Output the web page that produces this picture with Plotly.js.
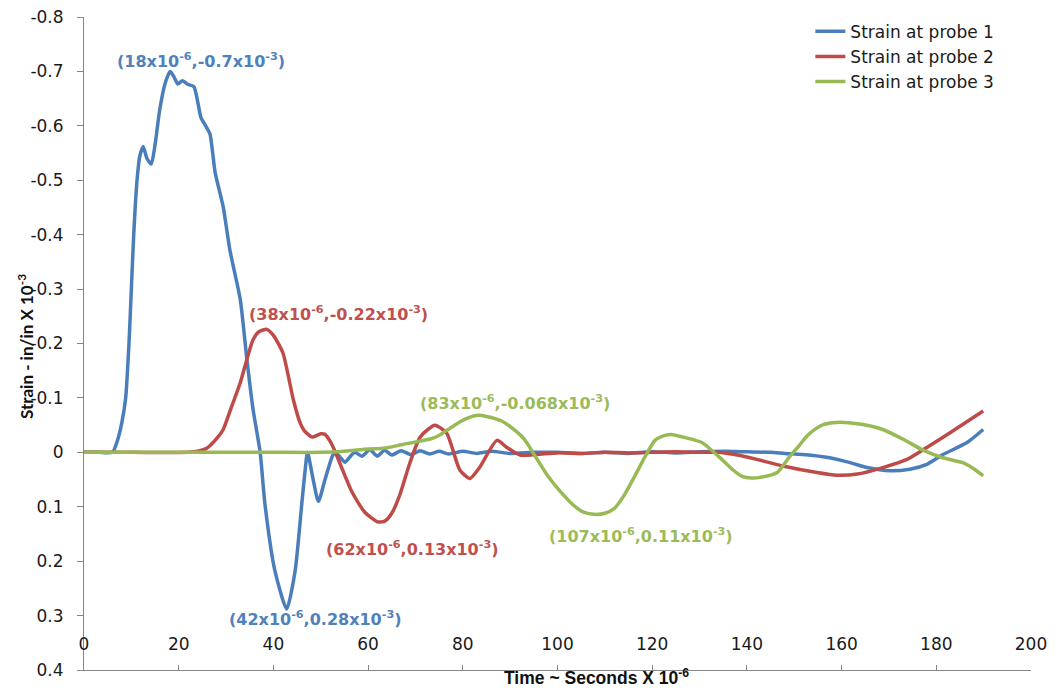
<!DOCTYPE html>
<html>
<head>
<meta charset="utf-8">
<script src="https://cdn.plot.ly/plotly-3.0.1.min.js"></script>
<style>html,body{margin:0;padding:0;background:#fff;}#chart{width:1062px;height:698px;}</style>
</head>
<body>
<div id="chart"></div>
<script>
// ---- data ----
const seriesNames = ["Strain at probe 1", "Strain at probe 2", "Strain at probe 3"];

const probe1X = [0, 3, 6.0, 7.0, 8.0, 8.8, 9.5, 10.0, 10.5, 11.2, 11.8, 12.5, 13.3, 14.2, 15.0, 16.0, 17.2, 18.2, 19.0, 19.8, 20.8, 22.0, 23.2, 24.0, 24.7, 25.7, 26.6, 27.7, 29.4, 30.8, 33.0, 34.4, 35.7, 37.2, 38.2, 40.3, 42.8, 44.6, 46.0, 46.7, 47.2, 48.4, 49.5, 50.9, 52.4, 53.0, 54.0, 55.1, 56.2, 57.2, 58.7, 60.4, 61.9, 63.5, 65, 67, 69, 71, 73, 75, 77, 80, 83, 86, 90, 95, 100, 105, 110, 115, 120, 125, 130, 135, 140, 145, 148, 151.8, 157.5, 161.8, 165.4, 170.2, 174.4, 178.0, 181.4, 186.5, 189.9];
const probe1Y = [0, 0, 0, -0.02, -0.055, -0.1, -0.2, -0.3, -0.4, -0.5, -0.545, -0.562, -0.54, -0.53, -0.565, -0.63, -0.68, -0.70, -0.69, -0.677, -0.683, -0.676, -0.672, -0.645, -0.615, -0.6, -0.585, -0.514, -0.451, -0.372, -0.281, -0.171, -0.079, 0, 0.094, 0.217, 0.288, 0.217, 0.094, 0.033, 0, 0.05, 0.09, 0.05, 0.008, 0, 0.008, 0.018, 0.008, 0, 0.007, -0.005, 0.007, -0.004, 0.005, -0.003, 0.004, -0.003, 0.003, -0.002, 0.003, -0.002, 0.002, -0.002, 0.002, 0, 0, 0.002, 0, 0.002, -0.001, 0.001, -0.001, -0.002, -0.001, 0, 0.002, 0.004, 0.01, 0.019, 0.028, 0.034, 0.031, 0.022, 0.004, -0.018, -0.042];

const probe2X = [0, 10, 22, 24, 26, 28, 29.4, 31.0, 33.0, 35.7, 37.0, 38.6, 40.0, 42.0, 44.2, 45.6, 46.5, 48.2, 50.0, 50.9, 52.0, 53.0, 54.5, 56.6, 59.3, 62.1, 63.6, 65.0, 66.7, 68.8, 71.0, 74.1, 76.6, 79.4, 81.5, 83.6, 87.2, 89.3, 92.1, 95.6, 100, 105, 110, 115, 120, 125, 130, 133.7, 138, 142.1, 147.6, 154.8, 159.0, 163.3, 168.7, 173.8, 178.0, 182.9, 189.9];
const probe2Y = [0, 0, 0, -0.002, -0.008, -0.025, -0.042, -0.08, -0.128, -0.207, -0.222, -0.226, -0.215, -0.183, -0.097, -0.055, -0.04, -0.028, -0.034, -0.033, -0.02, -0.002, 0.03, 0.073, 0.11, 0.128, 0.126, 0.112, 0.078, 0.02, -0.028, -0.05, -0.035, 0.033, 0.048, 0.027, -0.022, -0.009, 0.005, 0.004, 0.001, 0.002, 0, 0.001, 0, -0.001, 0, 0, 0.005, 0.013, 0.025, 0.037, 0.042, 0.04, 0.028, 0.013, -0.009, -0.036, -0.076];

const probe3X = [0, 20, 40, 50, 55, 60, 62.7, 65, 67, 70, 73.3, 75, 76.9, 79, 81, 83.2, 85, 88.1, 90.5, 93, 95.5, 98, 101, 103.6, 105.5, 107.8, 110, 112, 114, 116.3, 118.5, 120.6, 122.7, 124, 127, 130.5, 132, 134.7, 137, 139, 141, 142.8, 146.4, 149.1, 151.0, 152.7, 154.5, 156.1, 159.0, 162, 164.5, 168.7, 173.0, 177.2, 181.4, 185.6, 187.5, 189.9];
const probe3Y = [0, 0, 0, 0, -0.002, -0.006, -0.007, -0.01, -0.014, -0.019, -0.025, -0.031, -0.042, -0.054, -0.063, -0.068, -0.066, -0.058, -0.044, -0.024, 0.01, 0.044, 0.076, 0.099, 0.11, 0.114, 0.112, 0.103, 0.08, 0.044, 0.008, -0.022, -0.031, -0.033, -0.027, -0.018, -0.008, 0.013, 0.032, 0.044, 0.047, 0.046, 0.037, 0.007, -0.012, -0.03, -0.043, -0.051, -0.055, -0.054, -0.051, -0.042, -0.024, -0.004, 0.01, 0.019, 0.028, 0.043];

const yTickVals = [-0.8, -0.7, -0.6, -0.5, -0.4, -0.3, -0.2, -0.1, 0, 0.1, 0.2, 0.3, 0.4];
const yTickText = ["-0.8", "-0.7", "-0.6", "-0.5", "-0.4", "-0.3", "-0.2", "-0.1", "0", "0.1", "0.2", "0.3", "0.4"];
const xTickVals = [0, 20, 40, 60, 80, 100, 120, 140, 160, 180, 200];
const xTickText = ["0", "20", "40", "60", "80", "100", "120", "140", "160", "180", "200"];

const xTitle = "<b>Time ~ Seconds X 10<sup>-6</sup></b>";
const yTitle = "<b>Strain - in/in X 10<sup>-3</sup></b>";

const labelTexts = [
  "(18x10<sup>-6</sup>,-0.7x10<sup>-3</sup>)",
  "(38x10<sup>-6</sup>,-0.22x10<sup>-3</sup>)",
  "(83x10<sup>-6</sup>,-0.068x10<sup>-3</sup>)",
  "(62x10<sup>-6</sup>,0.13x10<sup>-3</sup>)",
  "(107x10<sup>-6</sup>,0.11x10<sup>-3</sup>)",
  "(42x10<sup>-6</sup>,0.28x10<sup>-3</sup>)"
];
const labelX = [24.7, 53.8, 91.0, 69.3, 117.6, 48.8];
const labelY = [-0.72, -0.256, -0.092, 0.176, 0.153, 0.306];
const labelSeries = [0, 1, 2, 1, 2, 0];

// ---- styling ----
const lineColors = ["#4A7EBB", "#BE4B48", "#98B954"];
const textColors = ["#4F81BD", "#C0504D", "#9BBB59"];
const tickFont = {family: "'DejaVu Sans', sans-serif", size: 17, color: "#1a1a1a"};

const traces = [
  {x: probe1X, y: probe1Y, name: seriesNames[0]},
  {x: probe2X, y: probe2Y, name: seriesNames[1]},
  {x: probe3X, y: probe3Y, name: seriesNames[2]}
].map((t, i) => Object.assign(t, {
  type: "scatter", mode: "lines",
  line: {color: lineColors[i], width: 3.5, shape: "spline", smoothing: 0.6},
  hoverinfo: "x+y"
}));
// empty carrier so the label-only time axis gets drawn
traces.push({x: [], y: [], xaxis: "x2", yaxis: "y", type: "scatter", mode: "lines", showlegend: false, hoverinfo: "skip"});

const annotations = labelTexts.map((txt, i) => ({
  text: txt, x: labelX[i], y: labelY[i], xref: "x", yref: "y",
  showarrow: false, xanchor: "center", yanchor: "middle",
  font: {family: "'DejaVu Sans', sans-serif", size: 16, color: textColors[labelSeries[i]], weight: "bold"}
}));
annotations.push({
  text: xTitle,
  xref: "paper", yref: "paper", x: 0.5417, y: -0.011, xanchor: "center", yanchor: "middle",
  showarrow: false,
  font: {family: "'Liberation Sans', Arial, sans-serif", size: 17.5, color: "#111"}
});
annotations.push({
  text: yTitle, textangle: -90,
  xref: "paper", yref: "paper", x: -0.0623, y: 0.4946, xanchor: "center", yanchor: "middle",
  showarrow: false,
  font: {family: "Lato, 'Noto Sans', sans-serif", size: 17, color: "#111"}
});

const layout = {
  width: 1062, height: 698,
  margin: {l: 84, r: 31, t: 17, b: 28, pad: 0},
  paper_bgcolor: "#fff", plot_bgcolor: "#fff",
  showlegend: true,
  legend: {x: 0.767, y: 1.005, xanchor: "left", yanchor: "top", bgcolor: "rgba(0,0,0,0)",
           font: {family: "'DejaVu Sans', sans-serif", size: 17, color: "#1a1a1a"}},
  xaxis: {
    range: [0, 200], tickvals: xTickVals, ticks: "inside", ticklen: 5, tickcolor: "#868686",
    showticklabels: false,
    showline: true, linecolor: "#868686", linewidth: 1, showgrid: false, zeroline: false
  },
  xaxis2: {
    overlaying: "x", anchor: "free", position: 0.058, side: "bottom",
    range: [0, 200], tickvals: xTickVals, ticktext: xTickText, ticks: "",
    showline: false, showgrid: false, zeroline: false,
    tickfont: tickFont
  },
  yaxis: {
    range: [0.4, -0.8], tickvals: yTickVals, ticktext: yTickText, ticks: "outside", ticklen: 6, tickcolor: "#868686",
    ticklabelstandoff: 10,
    showline: true, linecolor: "#868686", linewidth: 1, showgrid: false, zeroline: false,
    tickfont: tickFont
  },
  annotations: annotations
};

Plotly.newPlot("chart", traces, layout, {displayModeBar: false, staticPlot: true});
</script>
</body>
</html>
